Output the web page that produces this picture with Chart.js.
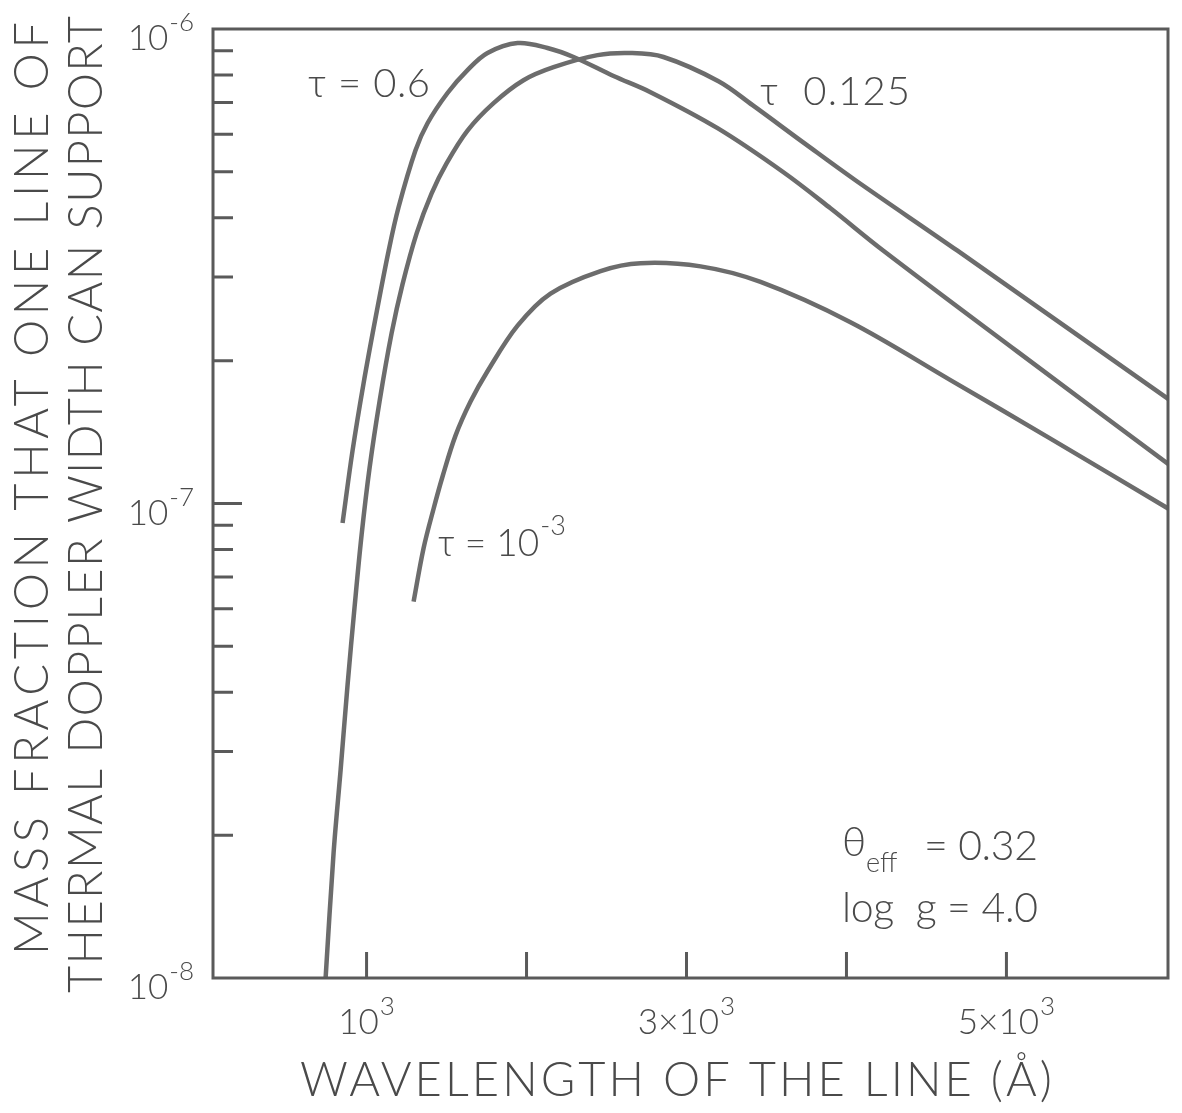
<!DOCTYPE html>
<html>
<head>
<meta charset="utf-8">
<script src="https://cdn.jsdelivr.net/npm/chart.js@4.4.1/dist/chart.umd.min.js"></script>
<style>
    html, body {margin: 0; padding: 0; background: #fff;}
    #wrap {width: 1182px; height: 1113px;}
</style>
</head>
<body>
<div id="wrap"><canvas id="massChart" width="1182" height="1113"></canvas></div>
<script>
// wavelength (A) and mass fraction
const tau06Lambda = [850, 912, 981, 1056, 1138, 1200, 1306, 1381, 1506, 1631, 1756, 1944, 2131, 2294, 2544, 2775, 3194, 3606, 3900, 4231, 5069, 6013];
const tau06Mass = [9.1e-8, 1.29e-7, 1.79e-7, 2.46e-7, 3.41e-7, 4.21e-7, 5.55e-7, 6.33e-7, 7.33e-7, 8.19e-7, 8.90e-7, 9.34e-7, 9.12e-7, 8.73e-7, 7.96e-7, 7.36e-7, 6.18e-7, 4.99e-7, 4.19e-7, 3.41e-7, 2.09e-7, 1.21e-7];

const tau0125Lambda = [744, 794, 838, 881, 925, 969, 1019, 1081, 1156, 1225, 1313, 1406, 1500, 1631, 1794, 1981, 2169, 2444, 2650, 2856, 3200, 3413, 3738, 4056, 4694, 6013];
const tau0125Mass = [1.0e-8, 1.84e-8, 2.75e-8, 4.14e-8, 6.05e-8, 8.59e-8, 1.19e-7, 1.64e-7, 2.28e-7, 2.90e-7, 3.71e-7, 4.50e-7, 5.21e-7, 6.11e-7, 6.98e-7, 7.80e-7, 8.31e-7, 8.81e-7, 8.90e-7, 8.73e-7, 7.76e-7, 6.91e-7, 5.74e-7, 4.80e-7, 3.41e-7, 1.66e-7];

const tau1e3Lambda = [1294, 1356, 1419, 1475, 1556, 1650, 1756, 1944, 2150, 2463, 2713, 3088, 3463, 4025, 4650, 5275, 6013];
const tau1e3Mass = [6.21e-8, 8.04e-8, 9.75e-8, 1.14e-7, 1.39e-7, 1.64e-7, 1.90e-7, 2.37e-7, 2.77e-7, 3.09e-7, 3.21e-7, 3.16e-7, 2.93e-7, 2.41e-7, 1.82e-7, 1.37e-7, 9.75e-8];

const xTicks = [1000, 2000, 3000, 4000, 5000];
const xLabels = [[1000, '', '10', '3'], [3000, '3\u00d7', '10', '3'], [5000, '5\u00d7', '10', '3']];
const yMajorTicks = [1e-7];
const yMinorTicks = [2e-8, 3e-8, 4e-8, 5e-8, 6e-8, 7e-8, 8e-8, 9e-8, 2e-7, 3e-7, 4e-7, 5e-7, 6e-7, 7e-7, 8e-7, 9e-7];
const yLabels = [[1e-6, '-6'], [1e-7, '-7'], [1e-8, '-8']];

const ink = '#4a4a4a';
const lineInk = '#6c6c6c';
const fontFam = "Lato, 'DejaVu Sans', sans-serif";

function toPoints(xs, ys) {
    return xs.map((x, i) => ({x: x, y: ys[i]}));
}

function font(size) {
    return '300 ' + size + 'px ' + fontFam;
}

// text stretched to a given width with letter spacing
function spacedText(ctx, text, x, y, width) {
    ctx.letterSpacing = '0px';
    const w = ctx.measureText(text).width;
    const sp = (width - w) / (text.length - 1);
    ctx.letterSpacing = sp + 'px';
    ctx.fillText(text, x, y);
    ctx.letterSpacing = '0px';
}

// base + raised exponent, returns end x
function powText(ctx, pre, base, sup, x, y, size, supSize, raise) {
    ctx.font = font(size);
    ctx.fillText(pre + base, x, y);
    let end = x + ctx.measureText(pre + base).width;
    ctx.font = font(supSize);
    ctx.fillText(sup, end + 1, y - raise);
    return end + 1 + ctx.measureText(sup).width;
}

function powWidth(ctx, pre, base, sup, size, supSize) {
    ctx.font = font(size);
    let w = ctx.measureText(pre + base).width + 1;
    ctx.font = font(supSize);
    return w + ctx.measureText(sup).width;
}

const framePlugin = {
    id: 'framePlugin',
    afterDatasetsDraw(chart) {
        const ctx = chart.ctx;
        const area = chart.chartArea;
        const xs = chart.scales.x;
        const ys = chart.scales.y;
        ctx.save();
        ctx.strokeStyle = '#5a5a5a';
        ctx.lineWidth = 3;
        ctx.strokeRect(area.left, area.top, area.right - area.left, area.bottom - area.top);

        // inward ticks
        ctx.lineWidth = 3;
        ctx.beginPath();
        xTicks.forEach(v => {
            const px = xs.getPixelForValue(v);
            ctx.moveTo(px, area.bottom);
            ctx.lineTo(px, area.bottom - 26);
        });
        yMinorTicks.forEach(v => {
            const py = ys.getPixelForValue(v);
            ctx.moveTo(area.left, py);
            ctx.lineTo(area.left + 20, py);
        });
        yMajorTicks.forEach(v => {
            const py = ys.getPixelForValue(v);
            ctx.moveTo(area.left, py);
            ctx.lineTo(area.left + 29, py);
        });
        ctx.stroke();

        ctx.fillStyle = ink;
        ctx.textBaseline = 'alphabetic';
        ctx.textAlign = 'left';

        // y tick labels
        yLabels.forEach(l => {
            const py = ys.getPixelForValue(l[0]);
            const w = powWidth(ctx, '', '10', l[1], 35, 26);
            powText(ctx, '', '10', l[1], 194 - w, py + 21, 35, 26, 19);
        });

        // x tick labels
        xLabels.forEach(l => {
            const px = xs.getPixelForValue(l[0]);
            const w = powWidth(ctx, l[1], l[2], l[3], 35, 26);
            powText(ctx, l[1], l[2], l[3], px - w / 2, 1034, 35, 26, 19);
        });

        // axis titles
        ctx.font = font(47);
        spacedText(ctx, 'WAVELENGTH OF THE LINE (\u00c5)', 300, 1096, 752);

        ctx.save();
        ctx.translate(48, 955);
        ctx.rotate(-Math.PI / 2);
        spacedText(ctx, 'MASS FRACTION THAT ONE LINE OF', 0, 0, 933);
        ctx.restore();
        ctx.save();
        ctx.translate(102, 993);
        ctx.rotate(-Math.PI / 2);
        spacedText(ctx, 'THERMAL DOPPLER WIDTH CAN SUPPORT', 0, 0, 977);
        ctx.restore();

        // curve labels
        ctx.font = font(40);
        spacedText(ctx, '\u03c4 = 0.6', 308, 97, 122);
        spacedText(ctx, '\u03c4  0.125', 760, 105, 150);
        powText(ctx, '\u03c4 = ', '10', '-3', 438, 556, 37, 27, 21);

        ctx.font = font(41);
        ctx.fillText('\u03b8', 842, 856);
        ctx.font = font(27);
        ctx.fillText('eff', 866, 872);
        ctx.font = font(41);
        spacedText(ctx, '= 0.32', 924, 860, 114);
        spacedText(ctx, 'log  g = 4.0', 842, 922, 196);
        ctx.restore();
    }
};

new Chart(document.getElementById('massChart'), {
    type: 'line',
    data: {
        datasets: [
            {label: 'tau = 0.6', data: toPoints(tau06Lambda, tau06Mass)},
            {label: 'tau = 0.125', data: toPoints(tau0125Lambda, tau0125Mass)},
            {label: 'tau = 1e-3', data: toPoints(tau1e3Lambda, tau1e3Mass)}
        ].map(d => Object.assign(d, {
            borderColor: lineInk,
            borderWidth: 4.5,
            pointRadius: 0,
            fill: false,
            tension: 0.35
        }))
    },
    options: {
        responsive: false,
        animation: false,
        layout: {padding: {left: 213, right: 14, top: 29, bottom: 135}},
        plugins: {legend: {display: false}, tooltip: {enabled: false}},
        scales: {
            x: {type: 'linear', min: 40, max: 6010, display: false},
            y: {type: 'logarithmic', min: 1e-8, max: 1e-6, display: false}
        }
    },
    plugins: [framePlugin]
});
</script>
</body>
</html>
